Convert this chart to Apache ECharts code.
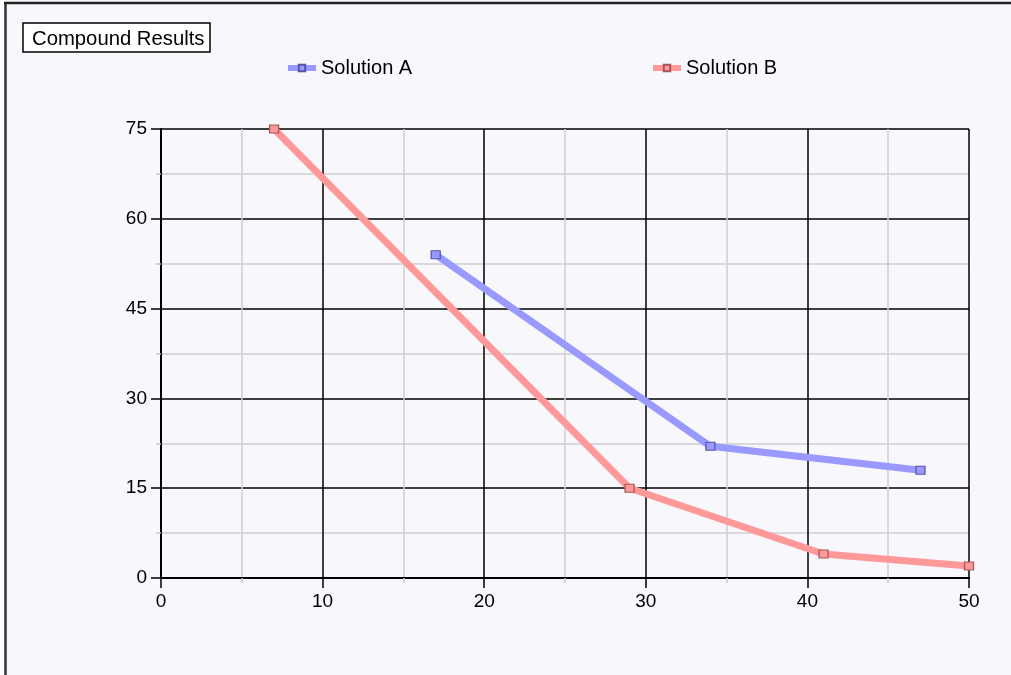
<!DOCTYPE html>
<html>
<head>
<meta charset="utf-8">
<script src="https://cdn.jsdelivr.net/npm/echarts@6/dist/echarts.min.js"></script>
<style>
html,body{margin:0;padding:0;background:#fff;}
#c{width:1011px;height:675px;}
</style>
</head>
<body>
<div id="c"></div>
<script>
const titleText = 'Compound Results';
const seriesNames = ['Solution A', 'Solution B'];
const solutionA = [[17, 54], [34, 22], [47, 18]];
const solutionB = [[7, 75], [29, 15], [41, 4], [50, 2]];
const xTicks = [0, 10, 20, 30, 40, 50];
const yTicks = [0, 15, 30, 45, 60, 75];

const chart = echarts.init(document.getElementById('c'), null, {renderer: 'canvas'});
const font = '"Liberation Sans", Arial, sans-serif';

const axisCommon = {
  type: 'value',
  axisLine: {show: true, onZero: false, lineStyle: {color: '#000', width: 2}},
  axisTick: {show: true, inside: false, length: 10, lineStyle: {color: '#000', width: 1.5}},
  minorTick: {show: true, splitNumber: 2, length: 5, lineStyle: {color: '#c8c8c8', width: 1.5}},
  splitLine: {show: true, lineStyle: {color: '#000', width: 1.5}},
  minorSplitLine: {show: true, lineStyle: {color: '#cfcfcf', width: 1.5}},
  axisLabel: {color: '#000', fontFamily: font, fontSize: 19, margin: 14}
};

const legendCommon = {
  itemWidth: 28, itemHeight: 8, itemGap: 5, top: 53,
  lineStyle: {width: 6},
  textStyle: {fontFamily: font, fontSize: 20, color: '#000'}
};

chart.setOption({
  backgroundColor: '#f7f7fc',
  animation: false,
  title: {
    text: titleText,
    left: 23, top: 23,
    backgroundColor: '#fff',
    borderColor: '#000',
    borderWidth: 1.5,
    padding: [6, 6, 3, 9],
    textStyle: {fontFamily: font, fontSize: 20.3, fontWeight: 'normal', color: '#000'}
  },
  legend: [
    Object.assign({data: [seriesNames[0]], left: 280}, legendCommon),
    Object.assign({data: [seriesNames[1]], left: 645}, legendCommon)
  ],
  grid: {left: 161, top: 129, width: 808, height: 449, containLabel: false},
  xAxis: Object.assign({}, axisCommon, {
    min: xTicks[0], max: xTicks[xTicks.length - 1], interval: xTicks[1] - xTicks[0]
  }),
  yAxis: Object.assign({}, axisCommon, {
    min: yTicks[0], max: yTicks[yTicks.length - 1], interval: yTicks[1] - yTicks[0]
  }),
  graphic: [
    {type: 'line', shape: {x1: 5.5, y1: 3, x2: 5.5, y2: 675}, style: {stroke: '#333', lineWidth: 2.5}, z: 100},
    {type: 'line', shape: {x1: 4, y1: 3, x2: 1011, y2: 3}, style: {stroke: '#222', lineWidth: 2.5}, z: 100},
    {type: 'rect', shape: {x: 0, y: 0, width: 4, height: 675}, style: {fill: '#fff'}, z: 99}
  ],
  series: [
    {
      name: seriesNames[0], type: 'line', data: solutionA,
      symbol: 'rect', symbolSize: [9, 8], showAllSymbol: true,
      lineStyle: {color: '#9999ff', width: 7},
      itemStyle: {color: '#9999ff', borderColor: '#5555aa', borderWidth: 1.2},
      emphasis: {disabled: true}, z: 3
    },
    {
      name: seriesNames[1], type: 'line', data: solutionB,
      symbol: 'rect', symbolSize: [9, 8], showAllSymbol: true,
      lineStyle: {color: '#ff9999', width: 7},
      itemStyle: {color: '#ff9999', borderColor: '#aa5555', borderWidth: 1.2},
      emphasis: {disabled: true}, z: 2
    }
  ]
});
</script>
</body>
</html>
